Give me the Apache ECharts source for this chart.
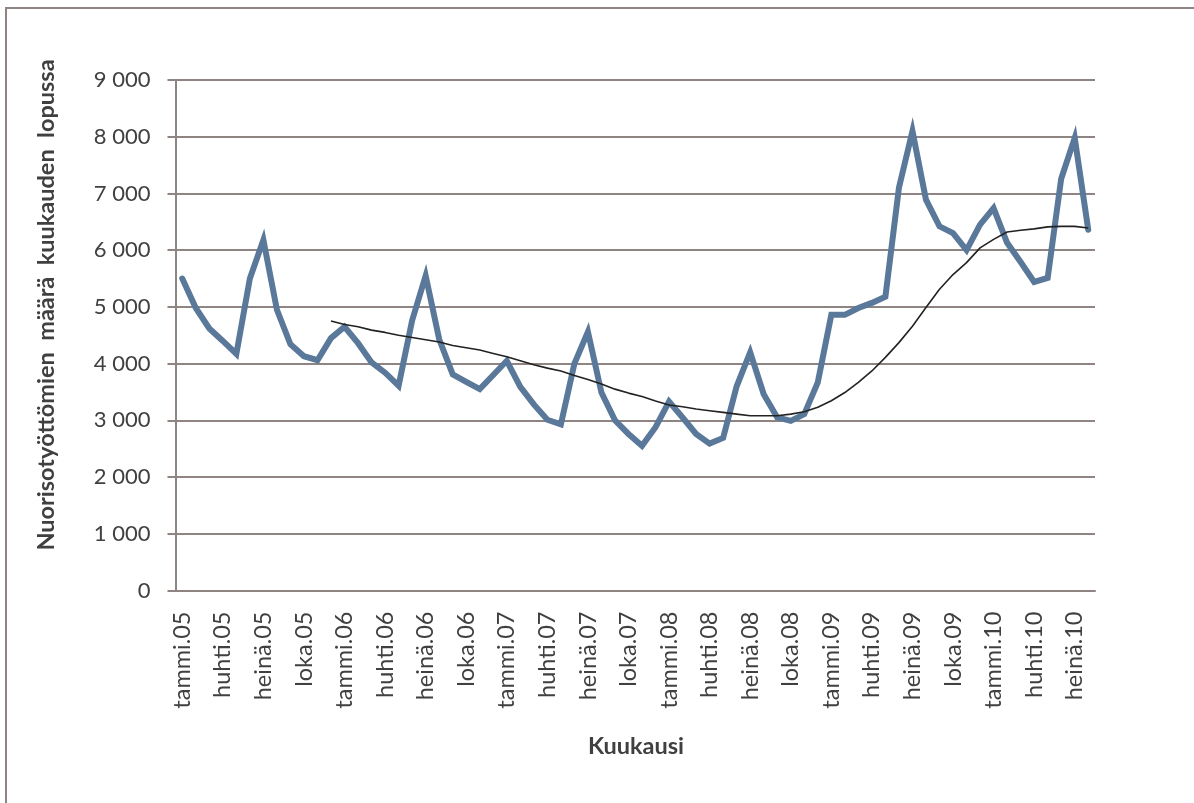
<!DOCTYPE html>
<html>
<head>
<meta charset="utf-8">
<script src="https://cdn.jsdelivr.net/npm/echarts@6/dist/echarts.min.js"></script>
<style>
html,body{margin:0;padding:0;background:#fff;}
#chart{width:1194px;height:803px;}
</style>
</head>
<body>
<div id="chart"></div>
<script>
const monthNames = ['tammi','helmi','maalis','huhti','touko','kesä','heinä','elo','syys','loka','marras','joulu'];
const years = ['05','06','07','08','09','10'];
const monthCount = 68;
const categories = [];
for (let i = 0; i < monthCount; i++) {
  categories.push(monthNames[i % 12] + '.' + years[Math.floor(i / 12)]);
}
const unemployed = [
  5500,4980,4620,4400,4170,5500,6180,4950,4340,4130,4060,4450,
  4650,4360,4020,3840,3610,4760,5550,4430,3810,3680,3550,3800,
  4050,3590,3280,3010,2930,4000,4560,3490,3000,2760,2550,2880,
  3330,3050,2760,2590,2690,3600,4200,3460,3050,2990,3110,3670,
  4860,4860,4980,5070,5180,7100,8100,6890,6420,6300,6000,6450,
  6740,6130,5790,5440,5510,7260,7980,6360
];
const maOffset = 11;
const movingAverage = [
  4750,4690,4650,4590,4550,4500,4460,4420,4380,4320,4280,4240,
  4180,4120,4050,3980,3920,3870,3790,3720,3640,3550,3480,3420,
  3340,3270,3240,3200,3170,3140,3110,3080,3080,3080,3110,3150,
  3230,3345,3490,3670,3870,4110,4370,4660,4990,5310,5570,5780,
  6040,6190,6320,6350,6375,6410,6420,6420,6390
];
const yTicks = [0,1000,2000,3000,4000,5000,6000,7000,8000,9000];

const maSeries = new Array(maOffset).fill(null).concat(movingAverage);
const axisColor = '#8e8482';
const textColor = '#404040';
const fontFamily = 'Lato, "Open Sans", sans-serif';

const chart = echarts.init(document.getElementById('chart'), null, {renderer: 'canvas'});
chart.setOption({
  animation: false,
  backgroundColor: '#ffffff',
  grid: {left: 175.5, right: 99, top: 80, bottom: 212.5, containLabel: false},
  graphic: [
    {type: 'rect', shape: {x: 6, y: 8, width: 1250, height: 850},
     style: {fill: 'none', stroke: axisColor, lineWidth: 2}, silent: true},
    {type: 'text', x: 46, y: 305, rotation: Math.PI / 2,
     style: {text: 'Nuorisotyöttömien  määrä  kuukauden  lopussa', fill: textColor,
             font: 'bold 23.5px ' + fontFamily, align: 'center', verticalAlign: 'middle'}},
    {type: 'text', x: 636, y: 746,
     style: {text: 'Kuukausi', fill: textColor, font: 'bold 23.5px ' + fontFamily,
             align: 'center', verticalAlign: 'middle'}}
  ],
  xAxis: {
    type: 'category',
    data: categories,
    boundaryGap: true,
    axisLine: {show: true, lineStyle: {color: axisColor, width: 2}},
    axisTick: {show: false},
    axisLabel: {interval: 2, rotate: 90, margin: 21, color: textColor,
                fontSize: 23.5, fontFamily: fontFamily},
    splitLine: {show: false}
  },
  yAxis: {
    type: 'value',
    min: yTicks[0],
    max: yTicks[yTicks.length - 1],
    interval: 1000,
    axisLine: {show: true, lineStyle: {color: axisColor, width: 2}},
    axisTick: {show: true, length: 8, lineStyle: {color: axisColor, width: 2}},
    axisLabel: {margin: 25, color: textColor, fontSize: 22, fontFamily: fontFamily,
                formatter: function (v) {
                  return String(v).replace(/\B(?=(\d{3})+(?!\d))/g, ' ');
                }},
    splitLine: {show: true, lineStyle: {color: axisColor, width: 2}}
  },
  series: [
    {type: 'line', data: unemployed, symbol: 'none', z: 2,
     lineStyle: {color: '#5a7899', width: 6, join: 'miter', cap: 'round'}},
    {type: 'line', data: maSeries, symbol: 'none', z: 3, connectNulls: false,
     lineStyle: {color: '#222222', width: 1.6}}
  ]
});
</script>
</body>
</html>
